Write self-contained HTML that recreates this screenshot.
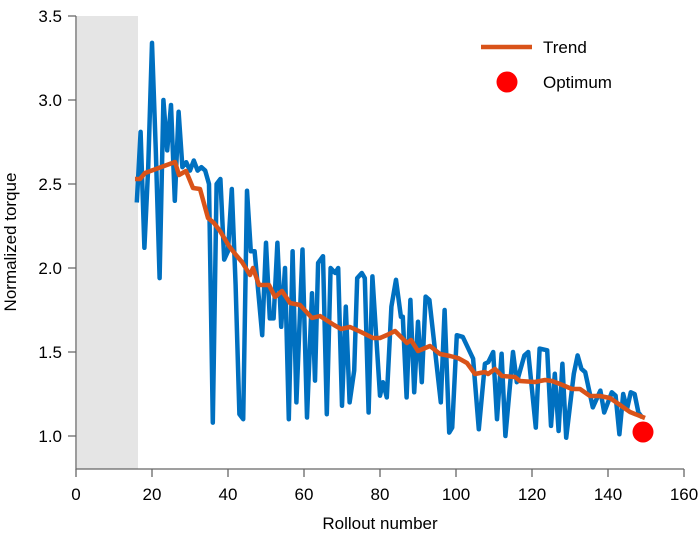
<!DOCTYPE html>
<html><head><style>
body{margin:0;background:#fff;}
svg{display:block;font-family:"Liberation Sans",Arial,sans-serif;}
</style></head><body>
<svg id="s" width="700" height="540" xmlns="http://www.w3.org/2000/svg">
<rect x="77" y="16" width="61" height="453" fill="#e5e5e5"/>
<g stroke="#666" stroke-width="1.3" fill="none">
<path d="M76,16V469H684"/>
<path d="M68,16H76M68,100H76M68,184H76M68,268H76M68,352H76M68,436H76"/>
<path d="M76,469V477M152,469V477M228,469V477M304,469V477M380,469V477M456,469V477M532,469V477M608,469V477M684,469V477"/>
</g>
<g font-size="17" fill="#000" text-anchor="end">
<text x="62" y="22">3.5</text><text x="62" y="106">3.0</text><text x="62" y="190">2.5</text>
<text x="62" y="274">2.0</text><text x="62" y="358">1.5</text><text x="62" y="442">1.0</text>
</g>
<g font-size="17" fill="#000" text-anchor="middle">
<text x="76" y="500">0</text><text x="152" y="500">20</text><text x="228" y="500">40</text><text x="304" y="500">60</text>
<text x="380" y="500">80</text><text x="456" y="500">100</text><text x="532" y="500">120</text><text x="608" y="500">140</text><text x="684" y="500">160</text>
<text x="380" y="529">Rollout number</text>
<text transform="translate(16,242) rotate(-90)">Normalized torque</text>
</g>
<polyline id="blue" fill="none" stroke="#0070c0" stroke-width="4.5" stroke-linejoin="round"/>
<polyline fill="none" stroke="#d95319" stroke-width="4.5" stroke-linejoin="round" points="135,179 140,179 145,173 175,162 179,175 186,171 193,188 200,189 208,218 214,223 220,231 229,246 236,255 242,262 250,275 253,268 259,285 269,285 275,297 282,291 290,303 300,305 312,318 320,316 334,325 341,329 350,327 361,332 373,338 380,338 387,335 395,331 402,338 407,343 411,340 418,351 430,346 440,354 450,356 458,358 467,363 475,374 485,372 488,374 495,369 502,376 515,377 520,381 535,382 545,380 552,381 560,384 572,389 580,389 590,396 600,396 610,398 620,405 630,412 645,418"/>
<circle cx="643" cy="432" r="10.5" fill="#ff0000"/>
<line x1="481" y1="47" x2="532" y2="47" stroke="#d95319" stroke-width="4.5"/>
<circle cx="507" cy="82" r="10.5" fill="#ff0000"/>
<text x="543" y="53" font-size="17">Trend</text>
<text x="543" y="88" font-size="17">Optimum</text>
</svg>
<script>
var d=[[16,2.39],[17,2.81],[18,2.12],[19,2.6],[20,3.34],[21,2.7],[22,1.94],[23,3.0],[24,2.7],[25,2.97],[26,2.4],[27,2.93],[28,2.6],[29,2.63],[30,2.58],[31,2.64],[32,2.58],[33,2.6],[34,2.58],[35,2.5],[36,1.08],[37,2.5],[38,2.53],[39,2.05],[40,2.1],[41,2.47],[42,1.9],[43,1.13],[44,1.1],[45,2.46],[46,2.1],[47,2.1],[48,1.85],[49,1.6],[50,2.15],[51,1.7],[52,1.7],[53,2.15],[54,1.65],[55,2.0],[56,1.1],[57,2.1],[58,1.2],[59.6,2.11],[60.8,1.11],[62.1,1.85],[62.9,1.33],[63.7,2.03],[65,2.07],[66,1.13],[67,2.0],[68.2,1.97],[69,2.0],[70,1.18],[71,1.77],[72,1.2],[73.2,1.39],[74,1.94],[75.2,1.97],[76,1.94],[77,1.14],[78,1.95],[80,1.24],[80.8,1.32],[81.8,1.23],[83,1.77],[84.2,1.93],[85.5,1.71],[86,1.71],[87,1.23],[88,1.81],[89,1.26],[90,1.68],[91,1.32],[92,1.83],[93,1.81],[96,1.2],[97,1.75],[98.2,1.02],[99,1.05],[100.2,1.6],[101.8,1.59],[104.5,1.46],[106,1.04],[107.6,1.43],[108.5,1.44],[109.8,1.5],[110.8,1.1],[112,1.49],[113,1.0],[115,1.5],[116,1.32],[118,1.48],[119,1.5],[121,1.05],[122,1.52],[124,1.51],[125,1.06],[126,1.37],[127,1.03],[128,1.43],[129,0.99],[131,1.37],[132,1.48],[133,1.4],[134,1.38],[136,1.17],[138,1.27],[139,1.14],[141,1.26],[142,1.24],[143,1.01],[144,1.25],[145,1.16],[146,1.26],[147,1.25],[148,1.14],[149,1.11]];
document.getElementById('blue').setAttribute('points',d.map(function(p){return (76+p[0]*3.8).toFixed(1)+','+(436-(p[1]-1)*168).toFixed(1);}).join(' '));
</script>
</body></html>
